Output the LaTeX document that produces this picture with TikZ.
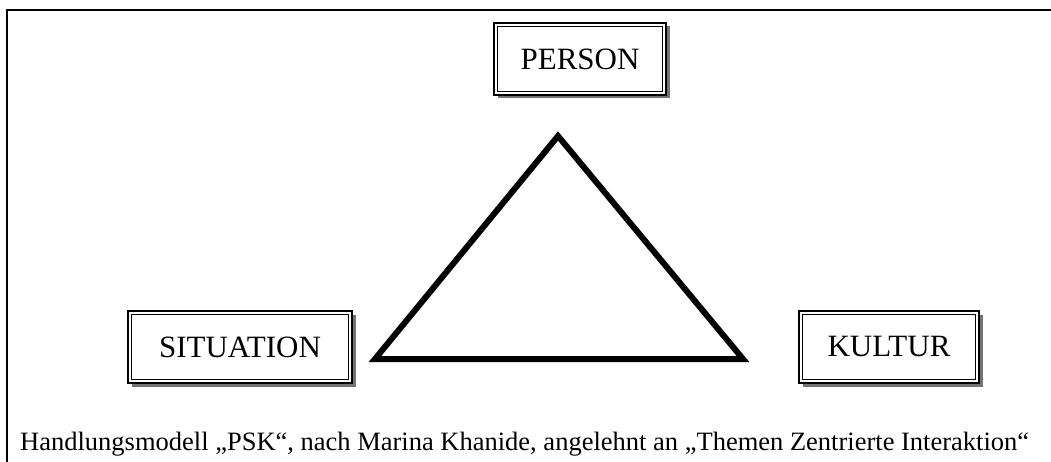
\documentclass[tikz,border=0pt]{standalone}
\usepackage{fontspec}
\setmainfont{Liberation Serif}
\usetikzlibrary{shadows}
\begin{document}
\begin{tikzpicture}[x=1pt,y=-1pt,
  conceptbox/.style={draw, line width=2.8pt, fill=white, minimum height=72pt,
    inner sep=0pt, font=\fontsize{31}{36}\selectfont,
    drop shadow={shadow xshift=3.5pt, shadow yshift=-3.5pt, fill=black!55, opacity=1}},
  innerline/.style={line width=1.5pt},
  frameline/.style={line width=2pt},
  triline/.style={line width=6pt, line join=miter},
  captiontext/.style={font=\fontsize{26.5}{30}\selectfont, inner sep=0pt}]
\useasboundingbox (0,0) rectangle (1051,462);
% outer frame (top and left edges only)
\draw[frameline] (1051,10) -| (7,462);
% boxes
\node[conceptbox, minimum width=172pt] (person) at (580,59) {PERSON};
\node[conceptbox, minimum width=224pt] (situation) at (240,347) {SITUATION};
\node[conceptbox, minimum width=180pt] (kultur) at (889,347) {KULTUR};
\foreach \n in {person,situation,kultur}{
  \draw[innerline] ([xshift=5pt,yshift=-5pt]\n.north west) rectangle ([xshift=-5pt,yshift=5pt]\n.south east);
}
% triangle
\coordinate (apex) at (558,136);
\coordinate (left) at (375,359);
\coordinate (right) at (743,359);
\draw[triline] (apex) -- (left) -- (right) -- cycle;
% caption
\node[captiontext, anchor=base west] (caption) at (20,450)
  {Handlungsmodell „PSK“, nach Marina Khanide, angelehnt an „Themen Zentrierte Interaktion“};
\end{tikzpicture}
\end{document}
